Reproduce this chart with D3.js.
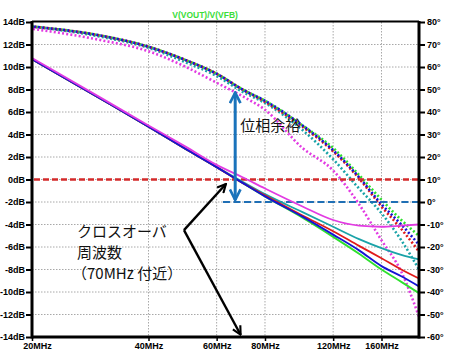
<!DOCTYPE html>
<html><head><meta charset="utf-8">
<script src="https://cdn.jsdelivr.net/npm/d3@7"></script>
<style>
html,body{margin:0;padding:0;background:#fff;}
svg{display:block;}
</style></head>
<body>
<script>
// ---------- data ----------
const freqs = [20,30,40,50,60,70,80,100,120,140,160,180,200]; // MHz
const gainGreen   = [10.7,7.2,4.7,2.7,1.1,-0.3,-1.5,-3.4,-5.1,-6.6,-8.0,-9.1,-10.1];
const gainBlue    = [10.7,7.2,4.7,2.7,1.1,-0.3,-1.5,-3.3,-4.9,-6.3,-7.7,-8.6,-9.5];
const gainRed     = [10.7,7.2,4.7,2.7,1.1,-0.3,-1.4,-3.2,-4.6,-5.9,-7.0,-8.0,-8.8];
const gainCyan    = [10.7,7.2,4.7,2.7,1.1,-0.2,-1.3,-2.9,-4.2,-5.3,-6.1,-6.7,-7.1];
const gainMagenta = [10.8,7.3,4.8,2.9,1.3,0.2,-0.8,-2.4,-3.6,-4.1,-4.2,-4.1,-4.0];
const phaseGreen   = [78,74,69,63,57,50,45,34,24,12,1,-8,-15];
const phaseBlue    = [78,74,69,63,57,50,45,34,23,11,-1,-10,-19];
const phaseRed     = [78,74,69,63,57,50,44.5,33.5,22.5,10.5,-2,-12,-22];
const phaseCyan    = [78,73.5,68.5,62,56,49,44,32,19,6,-5,-17,-30];
const phaseMagenta = [77,72,67,60,53,47,41,24,14,-1,-17,-31,-51];
const xTicks = [20,40,60,80,120,160];
const xTickLabels = ["20MHz","40MHz","60MHz","80MHz","120MHz","160MHz"];
const dbTicks = [14,12,10,8,6,4,2,0,-2,-4,-6,-8,-10,-12,-14];
const degTicks = [80,70,60,50,40,30,20,10,0,-10,-20,-30,-40,-50,-60];
const title = "V(VOUT)/V(VFB)";
const crossLabel = ["クロスオーバ","周波数","（70MHz 付近）"];
const marginLabel = "位相余裕";

const series = [
  {name:"green",   color:"#2ee02e", gain:gainGreen,   phase:phaseGreen},
  {name:"cyan",    color:"#1aa3a8", gain:gainCyan,    phase:phaseCyan},
  {name:"red",     color:"#e01b1b", gain:gainRed,     phase:phaseRed},
  {name:"blue",    color:"#1414d4", gain:gainBlue,    phase:phaseBlue},
  {name:"magenta", color:"#e23be2", gain:gainMagenta, phase:phaseMagenta}
];

// ---------- layout ----------
const W=450,H=358;
const L=32,R=419,T=22,B=337;
const x = d3.scaleLog().domain([20,200]).range([L,R]);
const yDb = d3.scaleLinear().domain([-14,14]).range([B,T]);
const yDeg = d3.scaleLinear().domain([-60,80]).range([B,T]);

const svg = d3.select("body").append("svg").attr("width",W).attr("height",H);
const defs = svg.append("defs");
function chevron(id,color){
  defs.append("marker").attr("id",id).attr("viewBox","0 0 10 10")
    .attr("refX",9).attr("refY",5).attr("markerWidth",4.4).attr("markerHeight",4.4)
    .attr("orient","auto-start-reverse").attr("markerUnits","strokeWidth")
    .append("path").attr("d","M1,1 L9,5 L1,9").attr("fill","none")
    .attr("stroke",color).attr("stroke-width",2).attr("stroke-linejoin","miter");
}
chevron("arrBlue","#1a73bb");
chevron("arrBlack","#000");

// grid
const grid = svg.append("g");
grid.selectAll("line.h").data(dbTicks.filter(d=>d!==14 && d!==-14)).join("line")
  .attr("x1",L).attr("x2",R).attr("y1",d=>yDb(d)).attr("y2",d=>yDb(d))
  .attr("stroke","#a8a8a8").attr("stroke-width",1).attr("stroke-dasharray","1.5,1.5");
grid.selectAll("line.v").data(xTicks.filter(d=>d!==20)).join("line")
  .attr("x1",d=>x(d)).attr("x2",d=>x(d)).attr("y1",T).attr("y2",B)
  .attr("stroke","#a8a8a8").attr("stroke-width",1).attr("stroke-dasharray","1.5,1.5");

// phase (dotted)
const linePh = d3.line().x((d,i)=>x(freqs[i])).y(d=>yDeg(d)).curve(d3.curveMonotoneX);
const lineDb = d3.line().x((d,i)=>x(freqs[i])).y(d=>yDb(d)).curve(d3.curveMonotoneX);
const ph = svg.append("g");
series.forEach((s,k)=>{
  ph.append("path").attr("d",linePh(s.phase)).attr("fill","none")
    .attr("stroke",s.color).attr("stroke-width",2.6)
    .attr("stroke-dasharray","2,2.2").attr("stroke-dashoffset",k*0.8);
});

// reference dashed lines
svg.append("line").attr("x1",L+2).attr("x2",R).attr("y1",yDb(0)).attr("y2",yDb(0))
  .attr("stroke","#d42a2a").attr("stroke-width",2.4).attr("stroke-dasharray","6,3");
svg.append("line").attr("x1",x(62.3)).attr("x2",R).attr("y1",yDb(-2)).attr("y2",yDb(-2))
  .attr("stroke","#1f6fb5").attr("stroke-width",2.2).attr("stroke-dasharray","7,3.5");

// gain (solid)
const gn = svg.append("g");
series.forEach(s=>{
  gn.append("path").attr("d",lineDb(s.gain)).attr("fill","none")
    .attr("stroke",s.color).attr("stroke-width",1.8);
});

// axes frame
svg.append("line").attr("x1",L).attr("x2",R).attr("y1",T-0.5).attr("y2",T-0.5).attr("stroke","#000").attr("stroke-width",1.8);
svg.append("line").attr("x1",L).attr("x2",L).attr("y1",T-1).attr("y2",B+1.5).attr("stroke","#000").attr("stroke-width",3);
svg.append("line").attr("x1",R).attr("x2",R).attr("y1",T-1).attr("y2",B+1.5).attr("stroke","#000").attr("stroke-width",3);
svg.append("line").attr("x1",L).attr("x2",R).attr("y1",B).attr("y2",B).attr("stroke","#000").attr("stroke-width",3);

const font = "'Liberation Sans', Arial, sans-serif";
// left axis
const gl = svg.append("g").attr("transform",`translate(${L},0)`)
  .call(d3.axisLeft(yDb).tickValues(dbTicks).tickFormat(d=>d+"dB").tickSize(6).tickPadding(1));
gl.select(".domain").remove();
gl.selectAll("line").attr("stroke-width",2);
gl.selectAll("text").attr("font-family",font).attr("font-size",9).attr("font-weight","bold").attr("fill","#000");
// right axis
const gr = svg.append("g").attr("transform",`translate(${R},0)`)
  .call(d3.axisRight(yDeg).tickValues(degTicks).tickFormat(d=>d+"°").tickSize(6).tickPadding(2));
gr.select(".domain").remove();
gr.selectAll("line").attr("stroke-width",2);
gr.selectAll("text").attr("font-family",font).attr("font-size",9).attr("font-weight","bold").attr("fill","#000");
// bottom axis
const gb = svg.append("g").attr("transform",`translate(0,${B})`)
  .call(d3.axisBottom(x).tickValues(xTicks).tickFormat((d,i)=>xTickLabels[i]).tickSize(4).tickPadding(2));
gb.select(".domain").remove();
gb.selectAll("line").attr("stroke-width",1.5);
gb.selectAll("text").attr("font-family",font).attr("font-size",9).attr("font-weight","bold").attr("fill","#000");
gb.selectAll(".tick").filter(d=>d===20).select("text").attr("dx",5);

// title
svg.append("text").attr("x",x(56)).attr("y",18).attr("text-anchor","middle")
  .attr("font-family",font).attr("font-size",8.5).attr("font-weight","bold")
  .attr("fill","#3add3a").text(title);

// phase margin arrow
svg.append("line").attr("x1",x(67)).attr("x2",x(67)).attr("y1",yDeg(49.5)+2).attr("y2",yDeg(0)-2)
  .attr("stroke","#1a73bb").attr("stroke-width",3)
  .attr("marker-start","url(#arrBlue)").attr("marker-end","url(#arrBlue)");
const jp = "'Noto Sans CJK JP', 'Noto Sans', sans-serif";
svg.append("text").attr("x",x(69)).attr("y",yDeg(34)+5).attr("font-family",jp)
  .attr("font-size",15).attr("fill","#111").text(marginLabel);

// crossover arrows
const vtx = [49.4,-4.5];
svg.append("line").attr("x1",x(vtx[0])).attr("y1",yDb(vtx[1])).attr("x2",x(63.4)).attr("y2",yDb(-0.4))
  .attr("stroke","#000").attr("stroke-width",2.4).attr("marker-end","url(#arrBlack)");
svg.append("line").attr("x1",x(vtx[0])).attr("y1",yDb(vtx[1])).attr("x2",x(69.2)).attr("y2",yDb(-13.8))
  .attr("stroke","#000").attr("stroke-width",2.4).attr("marker-end","url(#arrBlack)");
const ct = svg.append("text").attr("font-family",jp).attr("font-size",15).attr("fill","#111");
crossLabel.forEach((t,i)=>{
  ct.append("tspan").attr("x",i===2?72:77).attr("y",237+i*21).text(t);
});
</script>
</body></html>
